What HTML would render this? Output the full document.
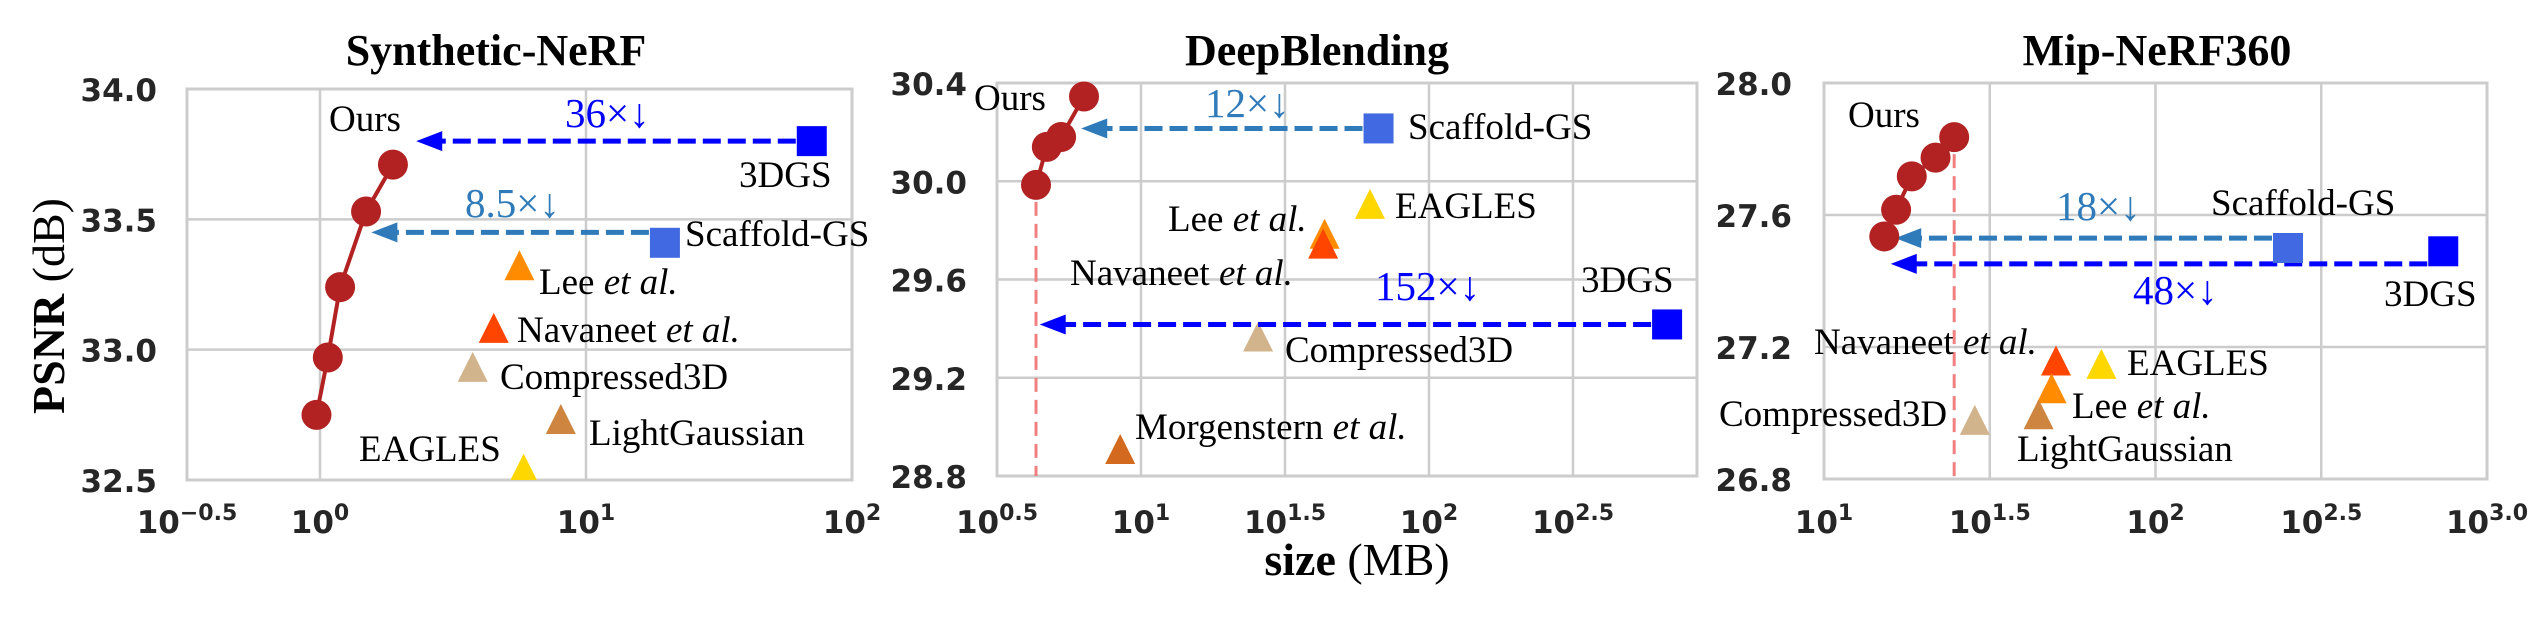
<!DOCTYPE html>
<html><head><meta charset="utf-8"><style>
html,body{margin:0;padding:0;background:#fff;}
svg{display:block;}
.tick{font-family:"DejaVu Sans",sans-serif;font-weight:bold;font-size:31px;fill:#262626;}
.sup{font-size:22px;}
.lab{font-family:"Liberation Serif",serif;font-size:37px;fill:#000;}
.title{font-family:"Liberation Serif",serif;font-weight:bold;font-size:44px;fill:#000;}
.ratio{font-family:"Liberation Serif",serif;font-size:41px;}
</style></head><body>
<svg id="chart" width="2539" height="623" viewBox="0 0 2539 623" xmlns="http://www.w3.org/2000/svg">
<text class="lab" transform="translate(64,306) rotate(-90)" text-anchor="middle" style="font-size:46px"><tspan font-weight="bold">PSNR</tspan> (dB)</text>
<text class="lab" x="1357" y="575" text-anchor="middle" style="font-size:46px"><tspan font-weight="bold">size</tspan> (MB)</text>
</svg>
<script>
// ---- Panel 1: Synthetic-NeRF ----
const p1OursSize = [1.88, 1.49, 1.19, 1.07, 0.97];
const p1OursPsnr = [33.71, 33.53, 33.24, 32.97, 32.75];
const p1Methods = ["3DGS", "Scaffold-GS", "Lee", "Navaneet", "Compressed3D", "LightGaussian", "EAGLES"];
const p1Size = [70.6, 19.8, 5.62, 4.5, 3.75, 8.04, 5.83];
const p1Psnr = [33.80, 33.41, 33.32, 33.08, 32.93, 32.73, 32.54];
const p1YTicks = [32.5, 33.0, 33.5, 34.0];
const p1XTicks = ["-0.5", "0", "1", "2"];
const p1ArrowPsnr = [33.80, 33.45];
const p1ArrowTip = [2.3, 1.56];
const p1Ratios = ["36×↓", "8.5×↓"];
// ---- Panel 2: DeepBlending ----
const p2OursSize = [6.34, 5.28, 4.71, 4.32];
const p2OursPsnr = [30.345, 30.18, 30.14, 29.985];
const p2Methods = ["3DGS", "Scaffold-GS", "EAGLES", "Lee", "Navaneet", "Compressed3D", "Morgenstern"];
const p2Size = [671, 66.8, 62.4, 43.4, 42.9, 25.5, 8.47];
const p2Psnr = [29.417, 30.215, 29.904, 29.782, 29.742, 29.364, 28.906];
const p2YTicks = [28.8, 29.2, 29.6, 30.0, 30.4];
const p2XTicks = ["0.5", "1", "1.5", "2", "2.5"];
const p2ArrowPsnr = [29.417, 30.215];
const p2ArrowTip = [4.45, 6.2];
const p2Ratios = ["152×↓", "12×↓"];
// ---- Panel 3: Mip-NeRF360 ----
const p3OursSize = [15.2, 16.5, 18.4, 21.7, 24.7];
const p3OursPsnr = [27.535, 27.616, 27.717, 27.774, 27.836];
const p3Methods = ["3DGS", "Scaffold-GS", "Navaneet", "EAGLES", "Lee", "LightGaussian", "Compressed3D"];
const p3Size = [738, 251, 50.1, 68.7, 48.6, 44.4, 28.5];
const p3Psnr = [27.49, 27.50, 27.156, 27.146, 27.072, 26.993, 26.976];
const p3YTicks = [26.8, 27.2, 27.6, 28.0];
const p3XTicks = ["1", "1.5", "2", "2.5", "3.0"];
const p3ArrowPsnr = [27.452, 27.530];
const p3ArrowTip = [15.9, 16.4];
const p3Ratios = ["48×↓", "18×↓"];

const NS = "http://www.w3.org/2000/svg";
const svg = document.getElementById("chart");
const COL = {"3DGS":"#0000ff","Scaffold-GS":"#4169e1","Lee":"#ff8c00","Navaneet":"#ff4500","Compressed3D":"#d2b48c","LightGaussian":"#cd853f","EAGLES":"#ffd700","Morgenstern":"#d2691e"};
const ARROWCOL = {"3DGS":"#0000ff","Scaffold-GS":"#2f7ab9"};
function mk(tag, attrs, parent){
  const e = document.createElementNS(NS, tag);
  for (const k in attrs) e.setAttribute(k, attrs[k]);
  (parent||svg).appendChild(e);
  return e;
}
function drawPanel(g){
  const sx = v => g.L + (Math.log10(v) - g.x0) / (g.x1 - g.x0) * (g.R - g.L);
  const sy = v => g.B - (v - g.y0) / (g.y1 - g.y0) * (g.B - g.T);
  const grp = mk("g", {});
  
  
  const clipId = g.name + "-clip";
  const cp = mk("clipPath", {id: clipId}, grp);
  mk("rect", {x: g.L, y: g.T, width: g.R - g.L, height: g.B - g.T}, cp);
  const t = mk("text", {x: g.titleX, y: 65, "text-anchor": "middle", class: "title"}, grp);
  t.textContent = g.title;
  
  
  g.xTicks.forEach(lbl => {
    const x = g.L + (parseFloat(lbl) - g.x0) / (g.x1 - g.x0) * (g.R - g.L);
    const gl = mk("line", {x1: x, x2: x, y1: g.T, y2: g.B, stroke: "#cccccc", "stroke-width": 2.5}, grp);
    
    
    const tx = mk("text", {x: x, y: 533, "text-anchor": "middle", class: "tick"}, grp);
    
    
    const lblText = lbl.startsWith("-") ? "\u2212" + lbl.slice(1) : lbl;
    tx.innerHTML = '10<tspan class="sup" dy="-13">' + lblText + '</tspan>';
  });
  g.yTicks.forEach(v => {
    const y = sy(v);
    const gl = mk("line", {x1: g.L, x2: g.R, y1: y, y2: y, stroke: "#cccccc", "stroke-width": 2.5}, grp);
    
    
    const ty = mk("text", {x: g.yLabR, y: y + 12, "text-anchor": "end", class: "tick"}, grp);
    ty.textContent = v.toFixed(1);
    
    
  });
  const fr = mk("rect", {x: g.L, y: g.T, width: g.R - g.L, height: g.B - g.T, fill: "none", stroke: "#cccccc", "stroke-width": 3}, grp);
  
  
  const plot = mk("g", {"clip-path": "url(#" + clipId + ")"}, grp);
  if (g.vline) {
    const i = g.oursSize.length - 1;
    const vx = sx(g.oursSize[i]);
    const vl = mk("line", {x1: vx, x2: vx, y1: sy(g.oursPsnr[i]) + 17, y2: g.B, stroke: "#f08080", "stroke-width": 3, "stroke-dasharray": "14 8"}, grp);
    
    
  }
  ["3DGS", "Scaffold-GS"].forEach((m, k) => {
    const idx = g.methods.indexOf(m);
    const x0 = sx(g.size[idx]) - 16, y = sy(g.arrowPsnr[k]);
    const xt = sx(g.arrowTip[k]);
    const c = ARROWCOL[m];
    const ln = mk("line", {x1: x0, x2: xt + 20, y1: y, y2: y, stroke: c, "stroke-width": 5, "stroke-dasharray": "18 7"}, grp);
    
    
    const hd = mk("polygon", {points: `${xt},${y} ${xt+26},${y-10} ${xt+26},${y+10}`, fill: c}, grp);
    
    
  });
  const pts = g.oursSize.map((s, i) => sx(s) + "," + sy(g.oursPsnr[i])).join(" ");
  const pl = mk("polyline", {points: pts, fill: "none", stroke: "#b22222", "stroke-width": 4}, plot);
  
  
  g.oursSize.forEach((s, i) => {
    const c = mk("circle", {cx: sx(s), cy: sy(g.oursPsnr[i]), r: 15, fill: "#b22222"}, grp);
    
    
  });
  g.methods.forEach((m, i) => {
    const x = sx(g.size[i]), y = sy(g.psnr[i]);
    let e;
    if (m === "3DGS" || m === "Scaffold-GS") {
      e = mk("rect", {x: x - 15, y: y - 15, width: 30, height: 30, fill: COL[m]}, grp);
    } else {
      e = mk("polygon", {points: `${x},${y-16} ${x+15},${y+14} ${x-15},${y+14}`, fill: COL[m]}, plot);
    }
    
    
  });
  g.labels.forEach(L => {
    const tx = mk("text", {x: L[1], y: L[2], class: "lab"}, grp);
    if (L[0].endsWith(" et al.")) {
      tx.innerHTML = L[0].replace(" et al.", "") + ' <tspan font-style="italic">et al.</tspan>';
    } else tx.textContent = L[0];
    
    
  });
  g.ratioPos.forEach((p, k) => {
    const tx = mk("text", {x: p[0], y: p[1], class: "ratio", fill: k === 0 ? "#0000ff" : "#2f7ab9"}, grp);
    tx.textContent = g.ratios[k];
    
    
  });
}
drawPanel({name: "synthetic-nerf-panel", title: "Synthetic-NeRF", titleX: 496, L: 187, R: 852, T: 89, B: 480, x0: -0.5, x1: 2, y0: 32.5, y1: 34.0, yLabR: 157,
  oursSize: p1OursSize, oursPsnr: p1OursPsnr, methods: p1Methods, size: p1Size, psnr: p1Psnr, yTicks: p1YTicks, xTicks: p1XTicks,
  arrowPsnr: p1ArrowPsnr, arrowTip: p1ArrowTip, ratios: p1Ratios, ratioPos: [[565,127],[465,217]], vline: false,
  labels: [["Ours",329,131],["3DGS",739,187],["Scaffold-GS",685,246],["Lee et al.",539,294],["Navaneet et al.",517,342],["Compressed3D",500,389],["LightGaussian",589,445],["EAGLES",359,461]]});
drawPanel({name: "deepblending-panel", title: "DeepBlending", titleX: 1317, L: 997, R: 1697, T: 83, B: 476, x0: 0.5, x1: 0.5 + 700/288, y0: 28.8, y1: 30.4, yLabR: 967,
  oursSize: p2OursSize, oursPsnr: p2OursPsnr, methods: p2Methods, size: p2Size, psnr: p2Psnr, yTicks: p2YTicks, xTicks: p2XTicks,
  arrowPsnr: p2ArrowPsnr, arrowTip: p2ArrowTip, ratios: p2Ratios, ratioPos: [[1375,300],[1205,117]], vline: true,
  labels: [["Ours",974,110],["Scaffold-GS",1408,139],["EAGLES",1395,218],["Lee et al.",1168,231],["Navaneet et al.",1070,285],["3DGS",1581,292],["Compressed3D",1285,362],["Morgenstern et al.",1135,439]]});
drawPanel({name: "mip-nerf360-panel", title: "Mip-NeRF360", titleX: 2157, L: 1824, R: 2487, T: 83, B: 479, x0: 1, x1: 3, y0: 26.8, y1: 28.0, yLabR: 1792,
  oursSize: p3OursSize, oursPsnr: p3OursPsnr, methods: p3Methods, size: p3Size, psnr: p3Psnr, yTicks: p3YTicks, xTicks: p3XTicks,
  arrowPsnr: p3ArrowPsnr, arrowTip: p3ArrowTip, ratios: p3Ratios, ratioPos: [[2133,304],[2056,220]], vline: true,
  labels: [["Ours",1848,127],["Scaffold-GS",2211,215],["3DGS",2384,306],["Navaneet et al.",1814,354],["EAGLES",2127,375],["Lee et al.",2072,418],["Compressed3D",1719,426],["LightGaussian",2017,461]]});
</script>
</body></html>
